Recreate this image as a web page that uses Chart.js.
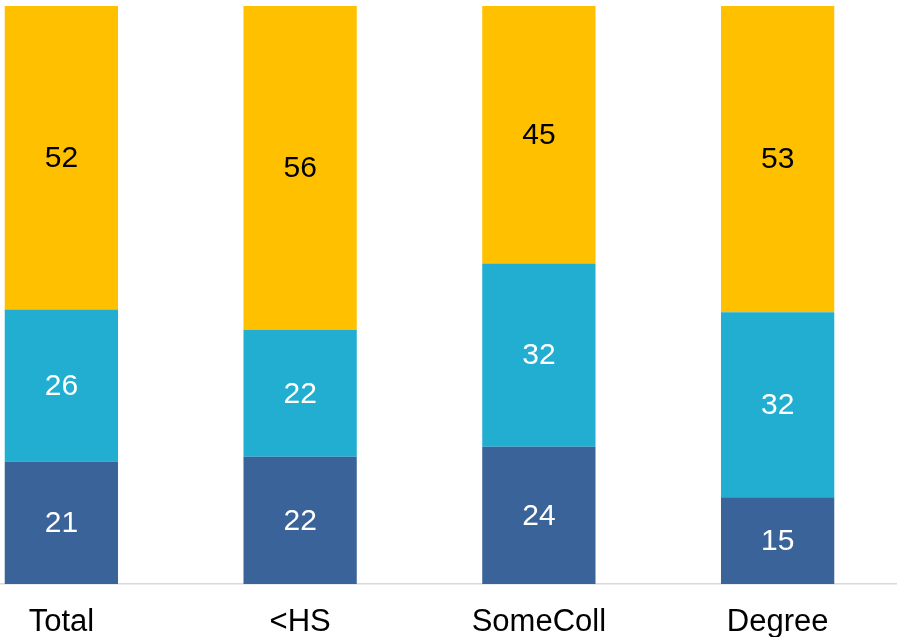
<!DOCTYPE html>
<html>
<head>
<meta charset="utf-8">
<script src="https://cdn.jsdelivr.net/npm/chart.js@4"></script>
<style>
  html, body { margin: 0; padding: 0; background: #fff; overflow: hidden; }
  #wrap { position: absolute; left: -58px; top: 0; width: 955px; height: 637px; }
</style>
</head>
<body>
<div id="wrap"><canvas id="myChart"></canvas></div>
<script>
var categories = ['Total', '<HS', 'SomeColl', 'Degree'];
var bottomValues = [21, 22, 24, 15];
var middleValues = [26, 22, 32, 32];
var topValues = [52, 56, 45, 53];

var seriesValues = [bottomValues, middleValues, topValues];
var seriesColors = ['#3A6399', '#21AED1', '#FFC000'];
var labelColors = ['#ffffff', '#ffffff', '#000000'];

// bars are drawn as share of each category's total (they all reach the top)
var totals = categories.map(function(c, i) {
    return bottomValues[i] + middleValues[i] + topValues[i];
});
function shares(values) {
    return values.map(function(v, i) { return v / totals[i] * 100; });
}

var segmentLabels = {
    id: 'segmentLabels',
    afterDatasetsDraw: function(chart) {
        var ctx = chart.ctx;
        ctx.save();
        ctx.font = '30px "Liberation Sans", Arial, sans-serif';
        ctx.textAlign = 'center';
        ctx.textBaseline = 'middle';
        chart.data.datasets.forEach(function(ds, di) {
            var meta = chart.getDatasetMeta(di);
            meta.data.forEach(function(bar, i) {
                ctx.fillStyle = labelColors[di];
                ctx.fillText(String(seriesValues[di][i]), bar.x, (bar.y + bar.base) / 2 + 1);
            });
        });
        ctx.restore();
    }
};

var ctx = document.getElementById('myChart').getContext('2d');
var myChart = new Chart(ctx, {
    type: 'bar',
    plugins: [segmentLabels],
    data: {
        labels: categories,
        datasets: seriesValues.map(function(vals, i) {
            return {
                data: shares(vals),
                backgroundColor: seriesColors[i],
                borderWidth: 0,
                barPercentage: 0.4745,
                categoryPercentage: 1
            };
        })
    },
    options: {
        responsive: true,
        maintainAspectRatio: false,
        animation: false,
        layout: { padding: { top: 6, left: 0, right: 0, bottom: 0 } },
        plugins: {
            legend: { display: false },
            tooltip: { enabled: false }
        },
        scales: {
            x: {
                stacked: true,
                grid: { display: false, drawTicks: false },
                border: { display: true, color: '#d9d9d9', width: 1.5 },
                ticks: {
                    color: '#000',
                    padding: 20,
                    font: { size: 31, family: '"Liberation Sans", Arial, sans-serif' }
                },
                afterFit: function(scale) { scale.height = 53; }
            },
            y: {
                stacked: true,
                display: false,
                min: 0,
                max: 100
            }
        }
    }
});
</script>
</body>
</html>
